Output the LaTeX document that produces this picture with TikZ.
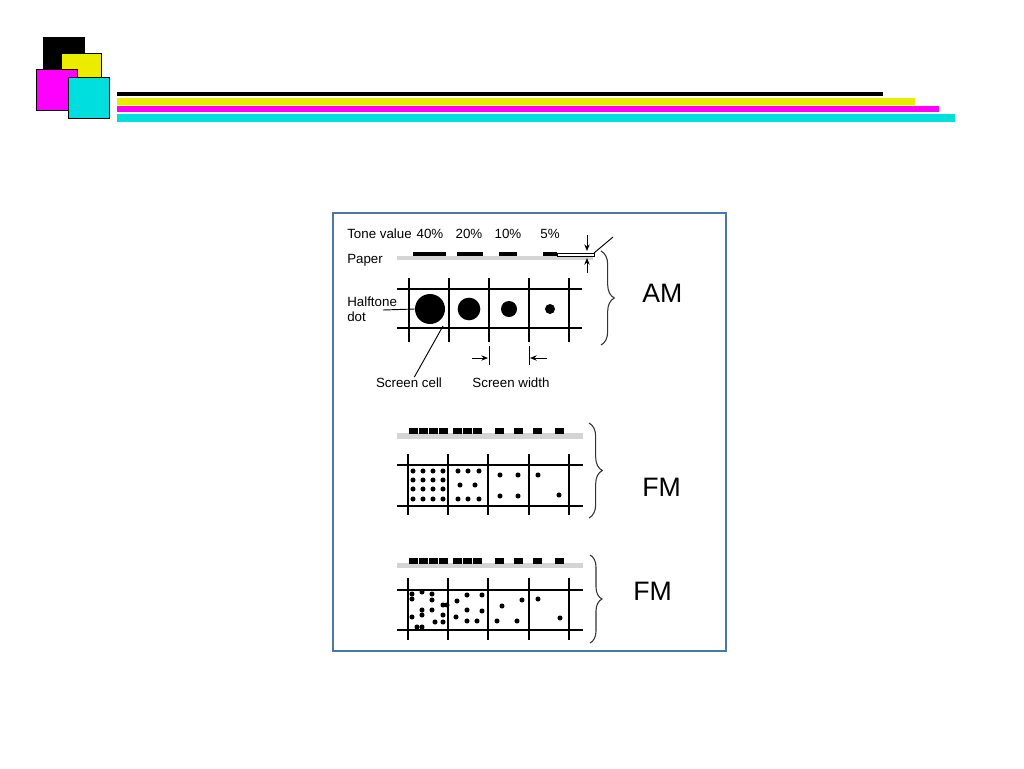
\documentclass[tikz,border=0pt]{standalone}
\usepackage{fontspec}
\setmainfont{Liberation Sans}
\usetikzlibrary{arrows.meta,decorations.pathreplacing}
\definecolor{boxblue}{RGB}{74,120,170}
\definecolor{logoyellow}{RGB}{236,236,0}
\definecolor{logomagenta}{RGB}{255,0,255}
\definecolor{logocyan}{RGB}{0,222,222}
\definecolor{papergray}{RGB}{212,212,212}
\tikzset{
  lbl/.style={font=\fontsize{10}{11}\selectfont,inner sep=0pt},
  big/.style={font=\fontsize{20}{22}\selectfont,inner sep=0pt},
  halfdot/.style={circle,fill,inner sep=0pt,minimum size=#1},
  gridline/.style={line width=1.2pt},
  lead/.style={line width=0.7pt},
  dimarrow/.style={line width=0.7pt,-{Stealth[length=5pt,width=4pt]}},
  curly/.style={decorate,decoration={brace,amplitude=#1},line width=0.8pt,black!80}
}
\begin{document}
\begin{tikzpicture}[x=0.75pt,y=-0.75pt]
\useasboundingbox (0,0) rectangle (1024,768);

% logo squares
\fill (43,37) rectangle (85,80);
\filldraw[fill=logoyellow,draw=black,line width=0.6pt] (61,53) rectangle (101,94);
\filldraw[fill=logomagenta,draw=black,line width=0.6pt] (36,69) rectangle (77,110);
\filldraw[fill=logocyan,draw=black,line width=0.6pt] (68,77) rectangle (109,118);

% title bars
\fill (117,92) rectangle (883,96);
\fill[logoyellow] (117,98) rectangle (915,105);
\fill[logomagenta] (117,106) rectangle (939,112);
\fill[logocyan] (117,114) rectangle (955,122);

% frame
\draw[boxblue,line width=1.2pt] (333,213) rectangle (726,651);

% AM panel
\node[lbl,anchor=base west] (tone) at (347,238) {Tone value};
\node[lbl,anchor=base] (p40) at (430,238) {40\%};
\node[lbl,anchor=base] (p20) at (469,238) {20\%};
\node[lbl,anchor=base] (p10) at (508,238) {10\%};
\node[lbl,anchor=base] (p5) at (550,238) {5\%};
\node[lbl,anchor=base west] (paper) at (347,263) {Paper};

\fill[papergray] (397,256) rectangle (593,260);
\fill (413,252) rectangle (446,256);
\fill (457,252) rectangle (483,256);
\fill (499,252) rectangle (517,256);
\fill (543,252) rectangle (557,256);
\draw[line width=0.5pt] (557,253) rectangle (594,256);

\coordinate (inktop) at (587,235);
\coordinate (inktopend) at (587,251);
\coordinate (inkbot) at (587,273);
\coordinate (inkbotend) at (587,258);
\draw[dimarrow] (inktop) -- (inktopend);
\draw[dimarrow] (inkbot) -- (inkbotend);
\coordinate (slantA) at (594,253);
\coordinate (slantB) at (613,237);
\draw[lead] (slantA) -- (slantB);

\draw[gridline] (397,289) -- (582,289);
\draw[gridline] (397,328) -- (582,328);
\draw[gridline] (409,278) -- (409,342);
\draw[gridline] (449,278) -- (449,342);
\draw[gridline] (489,278) -- (489,342);
\draw[gridline] (529,278) -- (529,342);
\draw[gridline] (569,278) -- (569,342);
\draw[lead] (489,346) -- (489,365);
\draw[lead] (529,346) -- (529,365);

\node[halfdot=22.5pt] (d40) at (430,309) {};
\node[halfdot=17pt] (d20) at (469,309) {};
\node[halfdot=12pt] (d10) at (509,309) {};
\node[halfdot=7.5pt] (d5) at (550,309) {};

\node[lbl,anchor=base west] (halftone) at (347,306) {Halftone};
\node[lbl,anchor=base west] (dot) at (347,321) {dot};
\coordinate (htlead) at (383,310);
\draw[lead] (htlead) -- (d40.west);

\node[lbl,anchor=base] (cell) at (409,387) {Screen cell};
\coordinate (celltip) at (443,326);
\draw[lead] ([xshift=4pt]cell.north) -- (celltip);

\node[lbl,anchor=base] (width) at (511,387) {Screen width};
\coordinate (wleft) at (472,358);
\coordinate (wleftend) at (488,358);
\coordinate (wright) at (547,358);
\coordinate (wrightend) at (530,358);
\draw[dimarrow] (wleft) -- (wleftend);
\draw[dimarrow] (wright) -- (wrightend);

\draw[curly=10pt] (601,251) -- (601,345);
\node[big,anchor=base west] (am) at (642,302) {AM};

% FM panel, regular
\fill[papergray] (397,433) rectangle (583,439);
\foreach \x in {409,419,429,439,453,463,473,495,514,533,555}
  \fill (\x,428) rectangle ++(8.5,6);
\draw[gridline] (397,465) -- (583,465);
\draw[gridline] (397,506) -- (583,506);
\foreach \x in {408,448,488,529,569}
  \draw[gridline] (\x,454) -- (\x,515);
\foreach \x in {413,423,433,443}
  \foreach \y in {471,480,489,499}
    \fill (\x,\y) circle (1.9pt);
\foreach \p in {(458,471),(468,471),(479,471),(460,485),(475,485),(458,499),(468,499),(479,499),
  (500,475),(518,475),(500,496),(518,496),(538,475),(559,495)}
  \fill \p circle (1.9pt);
\draw[curly=10pt] (589,423) -- (589,518);
\node[big,anchor=base west] (fm1) at (642,496) {FM};

% FM panel, random
\fill[papergray] (397,563) rectangle (583,568);
\foreach \x in {409,419,429,439,453,463,473,495,514,533,555}
  \fill (\x,558) rectangle ++(8.5,6);
\draw[gridline] (397,590) -- (583,590);
\draw[gridline] (397,630) -- (583,630);
\foreach \x in {408,448,488,529,569}
  \draw[gridline] (\x,578) -- (\x,640);
\foreach \p in {(412,594),(412,599),(422,592),(432,594),(432,600),(443,605),(447,605),(422,610),
  (422,615),(432,610),(412,617),(443,615),(435,622),(443,622),(417,627),(422,627),
  (457,601),(467,595),(482,595),(467,610),(482,611),(456,617),(467,621),(477,621),
  (502,606),(522,600),(497,621),(517,621),(538,599),(560,618)}
  \fill \p circle (1.9pt);
\draw[curly=9pt] (590,555) -- (590,643);
\node[big,anchor=base west] (fm2) at (633,600) {FM};
\end{tikzpicture}
\end{document}
